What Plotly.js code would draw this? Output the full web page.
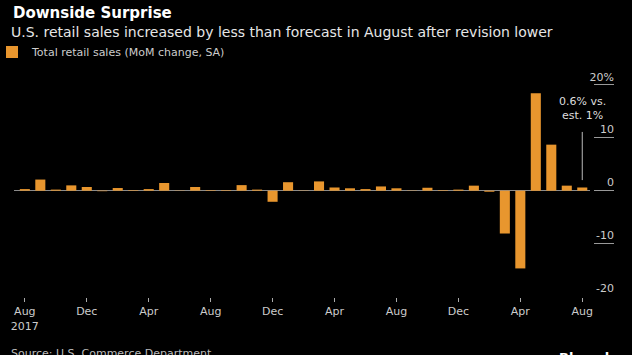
<!DOCTYPE html>
<html>
<head>
<meta charset="utf-8">
<script src="https://cdn.plot.ly/plotly-3.0.1.min.js"></script>
<style>
html,body{margin:0;padding:0;background:#000;}
#chart{width:632px;height:355px;}
</style>
</head>
<body>
<div id="chart"></div>
<script>
const months = ["Aug 2017","Sep 2017","Oct 2017","Nov 2017","Dec 2017",
  "Jan 2018","Feb 2018","Mar 2018","Apr 2018","May 2018","Jun 2018","Jul 2018","Aug 2018","Sep 2018","Oct 2018","Nov 2018","Dec 2018",
  "Jan 2019","Feb 2019","Mar 2019","Apr 2019","May 2019","Jun 2019","Jul 2019","Aug 2019","Sep 2019","Oct 2019","Nov 2019","Dec 2019",
  "Jan 2020","Feb 2020","Mar 2020","Apr 2020","May 2020","Jun 2020","Jul 2020","Aug 2020"];
const retailSales = [0.3, 2.1, 0.2, 1.0, 0.7,
  -0.1, 0.5, 0.1, 0.3, 1.45, 0.05, 0.7, 0.1, 0.1, 1.05, 0.2, -2.1,
  1.6, 0.05, 1.75, 0.6, 0.45, 0.3, 0.8, 0.45, 0.05, 0.55, 0.1, 0.2,
  0.95, -0.2, -8.1, -14.7, 18.4, 8.7, 0.95, 0.6];
const xTickVals = ["Aug 2017","Dec 2017","Apr 2018","Aug 2018","Dec 2018","Apr 2019","Aug 2019","Dec 2019","Apr 2020","Aug 2020"];
const xTickText = ["Aug<br>2017","Dec","Apr","Aug","Dec","Apr","Aug","Dec","Apr","Aug"];
const yTickVals = [-20, -10, 0, 10, 20];
const yTickText = ["-20", "-10", "0", "10", "20%"];
const seriesName = "Total retail sales (MoM change, SA)";

const orange = "#E8962E";
const font = "DejaVu Sans, Verdana, sans-serif";
const W = 614; // paper width in px (632 - right margin)

const data = [{
  type: "bar",
  x: months,
  y: retailSales,
  name: seriesName,
  marker: {color: orange},
  hoverinfo: "x+y"
}];

const layout = {
  width: 632, height: 355,
  paper_bgcolor: "#000", plot_bgcolor: "#000",
  margin: {l: 0, r: 18, t: 69, b: 58},
  bargap: 0.35,
  showlegend: true,
  legend: {orientation: "h", x: 0, xanchor: "left", y: 1.075, yanchor: "middle",
    itemwidth: 30, indentation: -8,
    font: {family: font, size: 11, color: "#cccccc"}, bgcolor: "rgba(0,0,0,0)"},
  xaxis: {
    type: "category", domain: [14 / W, 590 / W], range: [-0.7, 36.5],
    tickmode: "array", tickvals: xTickVals, ticktext: xTickText,
    ticks: "outside", ticklen: 4, tickcolor: "#aaaaaa", tickwidth: 1,
    showgrid: false, showline: false, zeroline: false,
    tickfont: {family: font, size: 11, color: "#cccccc"}
  },
  yaxis: {
    anchor: "free", position: 1, side: "right",
    range: [-20.1, 23], tickmode: "array", tickvals: yTickVals, ticktext: yTickText,
    ticks: "inside", ticklen: 20, tickcolor: "#999999", tickwidth: 1,
    ticklabelposition: "inside top", ticklabelstandoff: -3,
    showgrid: false, showline: false,
    zeroline: true, zerolinecolor: "#8a8a8a", zerolinewidth: 1,
    tickfont: {family: font, size: 11, color: "#cccccc"}
  },
  annotations: [
    {xref: "paper", yref: "paper", x: 11 / W, y: 1.246, xanchor: "left", yanchor: "middle",
     text: "<b>Downside Surprise</b>", showarrow: false,
     font: {family: font, size: 15, color: "#ffffff"}},
    {xref: "paper", yref: "paper", x: 9 / W, y: 1.162, xanchor: "left", yanchor: "middle",
     text: "U.S. retail sales increased by less than forecast in August after revision lower", showarrow: false,
     font: {family: font, size: 14, color: "#e6e6e6"}},
    {xref: "x", yref: "y", x: 36, y: 15.6, xanchor: "center", yanchor: "middle",
     text: "0.6% vs.<br>est. 1%", showarrow: false,
     font: {family: font, size: 11, color: "#dddddd"}},
    {xref: "paper", yref: "paper", x: 9 / W, y: -0.21, xanchor: "left", yanchor: "top",
     text: "Source: U.S. Commerce Department", showarrow: false,
     font: {family: font, size: 11, color: "#bbbbbb"}},
    {xref: "paper", yref: "paper", x: 557 / W, y: -0.222, xanchor: "left", yanchor: "top",
     text: "<b>Bloomberg</b>", showarrow: false,
     font: {family: font, size: 13, color: "#ffffff"}}
  ],
  shapes: [
    {type: "line", xref: "x", yref: "y", x0: 36, x1: 36, y0: 2.0, y1: 11.1,
     line: {color: "#bbbbbb", width: 1}}
  ]
};

Plotly.newPlot("chart", data, layout, {displayModeBar: false, staticPlot: true});
</script>
</body>
</html>
